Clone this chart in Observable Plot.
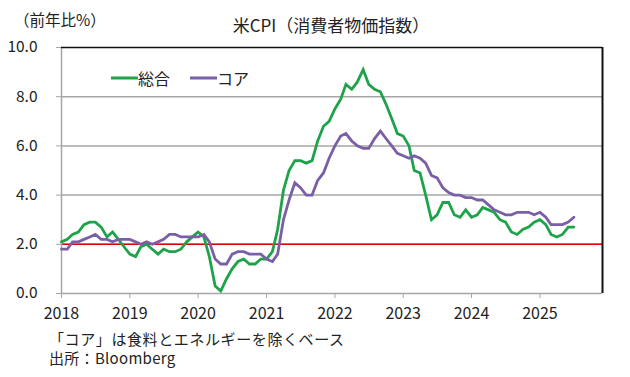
<!DOCTYPE html>
<html><head><meta charset="utf-8">
<script src="https://cdn.jsdelivr.net/npm/d3@7"></script>
<script src="https://cdn.jsdelivr.net/npm/@observablehq/plot@0.6"></script>
<style>
body{margin:0;background:#fff;font-family:"Noto Sans CJK JP","Noto Sans",sans-serif;color:#222;}
#wrap{position:relative;width:630px;height:377px;overflow:hidden;}
.t{position:absolute;white-space:nowrap;line-height:1;}
</style></head>
<body><div id="wrap"></div>
<script>
const startYear = 2018, startMonth = 0;
const headline = [
 2.1,2.2,2.4,2.5,2.8,2.9,2.9,2.7,2.3,2.5,2.2,1.9,
 1.6,1.5,1.9,2.0,1.8,1.6,1.8,1.7,1.7,1.8,2.1,2.3,
 2.5,2.3,1.5,0.3,0.1,0.6,1.0,1.3,1.4,1.2,1.2,1.4,
 1.4,1.7,2.6,4.2,5.0,5.4,5.4,5.3,5.4,6.2,6.8,7.0,
 7.5,7.9,8.5,8.3,8.6,9.1,8.5,8.3,8.2,7.7,7.1,6.5,
 6.4,6.0,5.0,4.9,4.0,3.0,3.2,3.7,3.7,3.2,3.1,3.4,
 3.1,3.2,3.5,3.4,3.3,3.0,2.9,2.5,2.4,2.6,2.7,2.9,
 3.0,2.8,2.4,2.3,2.4,2.7,2.7
];
const core = [
 1.8,1.8,2.1,2.1,2.2,2.3,2.4,2.2,2.2,2.1,2.2,2.2,
 2.2,2.1,2.0,2.1,2.0,2.1,2.2,2.4,2.4,2.3,2.3,2.3,
 2.3,2.4,2.1,1.4,1.2,1.2,1.6,1.7,1.7,1.6,1.6,1.6,
 1.4,1.3,1.6,3.0,3.8,4.5,4.3,4.0,4.0,4.6,4.9,5.5,
 6.0,6.4,6.5,6.2,6.0,5.9,5.9,6.3,6.6,6.3,6.0,5.7,
 5.6,5.5,5.6,5.5,5.3,4.8,4.7,4.3,4.1,4.0,4.0,3.9,
 3.9,3.8,3.8,3.6,3.4,3.3,3.2,3.2,3.3,3.3,3.3,3.2,
 3.3,3.1,2.8,2.8,2.8,2.9,3.1
];
const seriesNames = ["総合", "コア"];
const seriesColors = ["#1ea34a", "#7b5fa6"];
const yTicks = [0, 2, 4, 6, 8, 10];
const yearTicks = [2018,2019,2020,2021,2022,2023,2024,2025];
const refLine = 2.0;
const title = "米CPI（消費者物価指数）";
const unitLabel = "（前年比%）";
const notes = ["「コア」は食料とエネルギーを除くベース", "出所：Bloomberg"];

const dateOf = i => new Date(Date.UTC(startYear, startMonth + i, 1));
const rows = [];
headline.forEach((v, i) => rows.push({date: dateOf(i), value: v, series: seriesNames[0]}));
core.forEach((v, i) => rows.push({date: dateOf(i), value: v, series: seriesNames[1]}));
const xStart = dateOf(0), xEnd = new Date(Date.UTC(2025, 11, 1));

const chart = Plot.plot({
  width: 630, height: 377,
  marginTop: 47, marginBottom: 84, marginLeft: 61, marginRight: 28,
  style: {fontFamily: '"Noto Sans CJK JP","Noto Sans",sans-serif', fontSize: "15px", color: "#222", background: "#fff"},
  x: {type: "utc", domain: [xStart, xEnd]},
  y: {domain: [0, 10]},
  color: {domain: seriesNames, range: seriesColors},
  marks: [
    Plot.ruleY([2, 4, 6, 8], {stroke: "#a6a6a6", strokeWidth: 1.5}),
    Plot.ruleY([refLine], {stroke: "#e00000", strokeWidth: 1.6}),
    Plot.ruleY([0], {stroke: "#a6a6a6", strokeWidth: 1.5}),
    Plot.ruleX([xStart], {stroke: "#a6a6a6", strokeWidth: 1.5}),
    Plot.ruleY([10], {stroke: "#111", strokeWidth: 1.5}),
    Plot.ruleX([xEnd], {stroke: "#111", strokeWidth: 2}),
    Plot.axisY({ticks: yTicks, tickFormat: d => d.toFixed(1), tickSize: 5, tickPadding: 19, stroke: "#a6a6a6", fill: "#222", label: null, fontSize: 15.5}),
    Plot.axisX({ticks: yearTicks.map(y => new Date(Date.UTC(y, 0, 1))), tickFormat: d => String(d.getUTCFullYear()), tickSize: 5, tickPadding: 9, stroke: "#a6a6a6", fill: "#222", label: null, fontSize: 16}),
    Plot.line(rows, {x: "date", y: "value", z: "series", stroke: "series", strokeWidth: 2.8, strokeLinejoin: "miter", strokeMiterlimit: 4})
  ]
});
chart.style.position = "absolute";
chart.style.left = "0px";
chart.style.top = "0px";
const wrap = document.getElementById("wrap");
wrap.appendChild(chart);

function addText(txt, left, top, size, extra) {
  const d = document.createElement("div");
  d.className = "t";
  d.textContent = txt;
  d.style.left = left + "px";
  d.style.top = top + "px";
  d.style.fontSize = size + "px";
  if (extra) Object.assign(d.style, extra);
  wrap.appendChild(d);
  return d;
}
addText(title, 331, 16, 17, {transform: "translateX(-50%)"});
addText(unitLabel, 14, 12, 15.5);
addText(notes[0], 49, 331, 15, {letterSpacing: "0.6px"});
addText(notes[1], 49, 350, 15, {letterSpacing: "0.3px"});

// legend
const legendX = [111, 190];
seriesNames.forEach((name, i) => {
  const sw = document.createElementNS("http://www.w3.org/2000/svg", "svg");
  sw.setAttribute("width", 27); sw.setAttribute("height", 6);
  sw.style.position = "absolute";
  sw.style.left = legendX[i] + "px"; sw.style.top = "75px";
  const ln = document.createElementNS("http://www.w3.org/2000/svg", "line");
  ln.setAttribute("x1", 0); ln.setAttribute("x2", 27);
  ln.setAttribute("y1", 3); ln.setAttribute("y2", 3);
  ln.setAttribute("stroke", seriesColors[i]); ln.setAttribute("stroke-width", 3);
  sw.appendChild(ln);
  wrap.appendChild(sw);
  addText(name, legendX[i] + 27, 70, 16);
});
</script></body></html>
